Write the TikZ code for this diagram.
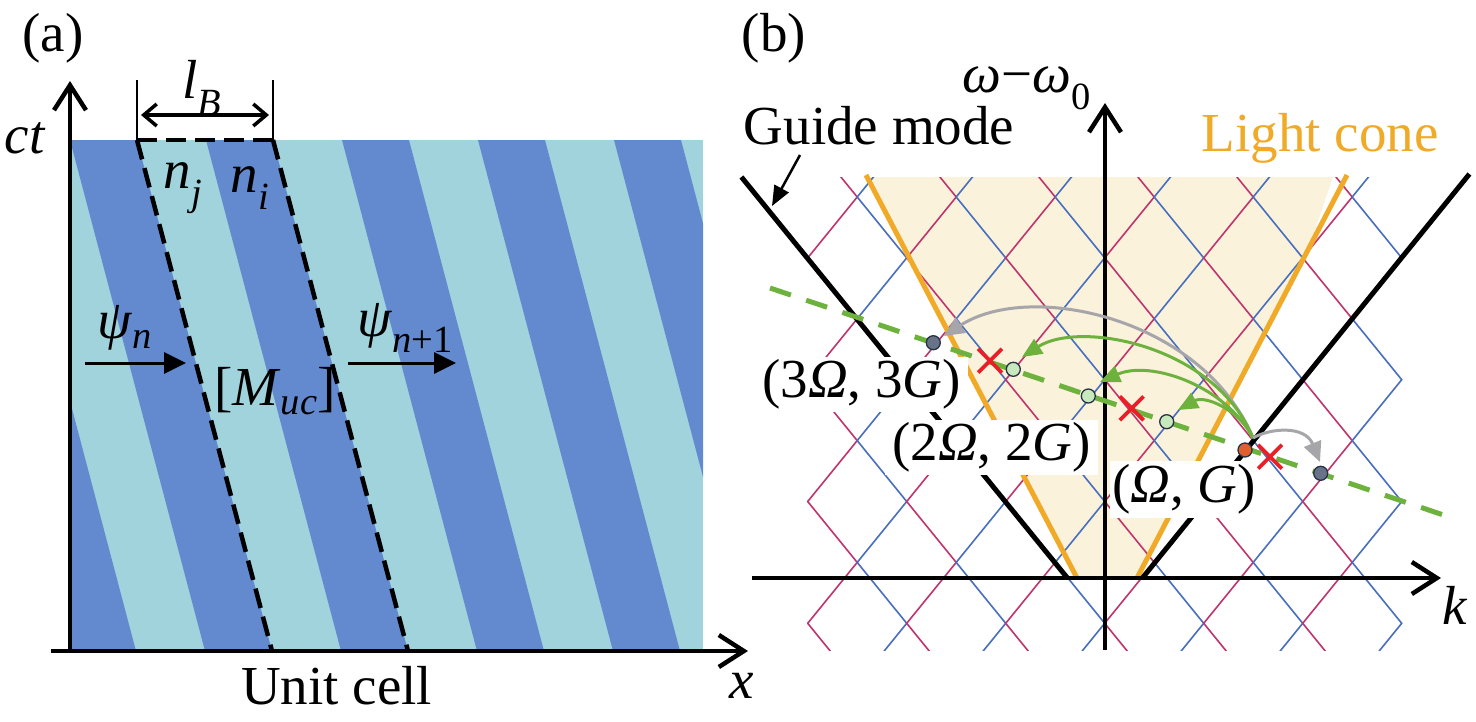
\documentclass[tikz,border=0pt]{standalone}
\usepackage{fontspec}
\setmainfont{Liberation Serif}
\usetikzlibrary{arrows.meta,shapes.misc}
\definecolor{darkstripe}{RGB}{99,137,207}
\definecolor{lightstripe}{RGB}{161,211,221}
\definecolor{lblue}{RGB}{72,110,190}
\definecolor{lmag}{RGB}{192,52,110}
\definecolor{cone}{RGB}{240,170,40}
\definecolor{conefill}{RGB}{251,242,220}
\definecolor{gdash}{RGB}{110,178,62}
\definecolor{grayarrow}{RGB}{165,165,170}
\definecolor{xred}{RGB}{235,30,40}
\definecolor{gdot}{RGB}{200,232,190}
\definecolor{bdot}{RGB}{105,115,135}
\definecolor{odot}{RGB}{225,95,45}
\definecolor{dotline}{RGB}{40,50,70}
\begin{document}
\begin{tikzpicture}[x=1pt,y=-1pt,
  lbl/.style={font=\fontsize{55}{60}\selectfont, inner sep=0pt},
  boxlbl/.style={font=\fontsize{55}{60}\selectfont, inner sep=0pt, fill=white},
  axisline/.style={line width=4.5pt, -{Straight Barb[length=25pt,width=32pt]}},
  dsh/.style={line width=4.5pt, dash pattern=on 20pt off 9pt},
  latline/.style={line width=1.6pt, line cap=round},
  greenarr/.style={gdash, line width=3pt, -{Triangle[length=20pt,width=17pt]}},
  grayarr/.style={grayarrow, line width=3pt, -{Triangle[length=20pt,width=18pt]}},
  dotbase/.style={circle, draw=dotline, line width=1.3pt, minimum size=14pt, inner sep=0pt},
  gdotst/.style={dotbase, fill=gdot},
  bdotst/.style={dotbase, fill=bdot},
  odotst/.style={dotbase, fill=odot},
  redx/.style={cross out, draw=xred, line width=3.8pt, minimum size=20pt, inner sep=0pt}
]
\useasboundingbox (0,0) rectangle (1476,721);
\fill[white] (0,0) rectangle (1476,721);

% ---------------- panel (a) ----------------
\begin{scope}
\clip (70,140) rectangle (703,651);
\fill[lightstripe] (70,140) rectangle (703,651);
\foreach \a in {-66,70,206,342,478,614} {
  \fill[darkstripe] (\a,140) -- (\a+67,140) -- (\a+202,651) -- (\a+135,651) -- cycle;
}
\end{scope}
\coordinate (ucTL) at (137,140);
\coordinate (ucTR) at (273,140);
\coordinate (ucBL) at (272,651);
\coordinate (ucBR) at (408,651);
\draw[dsh] (ucTL) -- (ucBL);
\draw[dsh] (ucTR) -- (ucBR);
\draw[dsh] (ucTL) -- (ucTR);
\coordinate (barL) at (137,80);
\coordinate (barR) at (273,80);
\draw[line width=2.5pt] (barL) -- (ucTL);
\draw[line width=2.5pt] (barR) -- (ucTR);
\coordinate (lbA) at (141,115);
\coordinate (lbB) at (269,115);
\draw[line width=3.5pt, {Straight Barb[length=13pt,width=22pt]}-{Straight Barb[length=13pt,width=22pt]}] (lbA) -- (lbB);

\coordinate (aO) at (70,651);
\coordinate (aXs) at (51,651);
\coordinate (aX) at (748,651);
\coordinate (aY) at (70,81);
\draw[axisline] (aXs) -- (aX);
\draw[axisline] (aO) -- (aY);

\coordinate (p1s) at (85,363);
\coordinate (p1e) at (186,363);
\coordinate (p2s) at (348,363);
\coordinate (p2e) at (456,363);
\draw[line width=3pt, -{Triangle[length=22pt,width=21pt]}] (p1s) -- (p1e);
\draw[line width=3pt, -{Triangle[length=22pt,width=21pt]}] (p2s) -- (p2e);

\node[lbl] (la) at (53,38) {(a)};
\node[lbl] (lct) at (25,138) {\textit{ct}};
\node[lbl] (llb) at (202,88) {\textit{l}\textsubscript{\textit{B}}};
\node[lbl] (lnj) at (183,188) {\textit{n}\textsubscript{\textit{j}}};
\node[lbl] (lni) at (250,188) {\textit{n}\textsubscript{\textit{i}}};
\node[lbl] (lpsin) at (125,328) {\textit{ψ}\textsubscript{\textit{n}}};
\node[lbl] (lpsin1) at (405,328) {\textit{ψ}\textsubscript{\textit{n}+1}};
\node[lbl] (lM) at (275,391) {[\textit{M}\textsubscript{\textit{uc}}]};
\node[lbl] (lunit) at (336.5,686) {Unit cell};
\node[lbl] (lx) at (742,686) {\textit{x}};

% ---------------- panel (b) ----------------
\fill[conefill] (870,177) -- (1333,177) -- (1309,247) -- (1137,578) -- (1077,578) -- cycle;

\begin{scope}
\clip (805,177) rectangle (1403.5,650);
\foreach \k in {-1,...,10} {
  \pgfmathtruncatemacro{\parity}{mod(\k+20,2)}
  \ifnum\parity=0 \def\lc{lblue}\else \def\lc{lmag}\fi
  \foreach \j in {-1,...,7} {
    \pgfmathtruncatemacro{\ev}{mod(\j-\k+20,2)}
    \pgfmathsetmacro{\xl}{857.2+49.5*\k}
    \pgfmathsetmacro{\xr}{857.2+49.5*(\k+1)}
    \pgfmathsetmacro{\ya}{197+60.9*\j}
    \pgfmathsetmacro{\yb}{197+60.9*(\j+1)}
    \ifnum\ev=0
      \draw[latline, \lc] (\xl,\ya) -- (\xr,\yb);
    \else
      \draw[latline, \lc] (\xr,\ya) -- (\xl,\yb);
    \fi
  }
}
\end{scope}

\coordinate (cL1) at (866,175);
\coordinate (cL2) at (1077,578);
\coordinate (cR1) at (1347,175);
\coordinate (cR2) at (1137,578);
\draw[cone, line width=5pt] (cL1) -- (cL2);
\draw[cone, line width=5pt] (cR1) -- (cR2);

\coordinate (gL1) at (741.4,177);
\coordinate (gL2) at (1067.4,578);
\coordinate (gR1) at (1469.4,174);
\coordinate (gR2) at (1142.4,578);
\draw[line width=5pt] (gL1) -- (gL2);
\draw[line width=5pt] (gR1) -- (gR2);

\coordinate (bXs) at (752,578);
\coordinate (bX) at (1441,578);
\coordinate (bYs) at (1105,650);
\coordinate (bY) at (1105,103);
\draw[axisline] (bXs) -- (bX);
\draw[axisline] (bYs) -- (bY);

\coordinate (gd1) at (770,288);
\coordinate (gd2) at (1442,514.5);
\draw[gdash, line width=5pt, dash pattern=on 22pt off 16.17pt] (gd1) -- (gd2);

% labels with white background
\node[boxlbl, minimum width=213pt, minimum height=55pt] (l3) at (861.5,384.5) {(3\textit{Ω}, 3\textit{G})};
\node[boxlbl, minimum width=213pt, minimum height=55pt] (l2) at (991.5,447.5) {(2\textit{Ω}, 2\textit{G})};
\node[boxlbl, minimum width=148pt, minimum height=57pt] (l1) at (1184,489.5) {(\textit{Ω}, \textit{G})};

% arrows
\coordinate (o) at (1253,438);
\coordinate (t1) at (1022,357);
\coordinate (t2) at (1100,382);
\coordinate (t3) at (944,336);
\coordinate (t4) at (1178,410);
\coordinate (t5) at (1320,462);
\draw[grayarr] (o) .. controls (1203,318) and (1030,280) .. (t3);
\draw[greenarr] (o) .. controls (1215,345) and (1080,320) .. (t1);
\draw[greenarr] (o) .. controls (1225,385) and (1150,360) .. (t2);
\draw[greenarr] (o) .. controls (1240,410) and (1205,395) .. (t4);
\draw[grayarr] (o) .. controls (1270,428) and (1305,425) .. (t5);

% dots and crosses
\node[bdotst] (d3) at (933.3,342.7) {};
\node[gdotst] (d2a) at (1013.3,369.3) {};
\node[gdotst] (d2b) at (1088.3,396) {};
\node[gdotst] (d1a) at (1166.7,421.7) {};
\node[odotst] (d0) at (1245,450) {};
\node[bdotst] (dm) at (1320.7,473.3) {};
\node[redx] (x3) at (990,360.7) {};
\node[redx] (x2) at (1131.7,408.3) {};
\node[redx] (x1) at (1270,456.7) {};

\node[lbl] (lb) at (774,38) {(b)};
\node[lbl] (lw) at (1027,88) {\textit{ω}−\textit{ω}\textsubscript{0}};
\node[lbl] (lguide) at (879,126) {Guide mode};
\node[lbl, text=cone] (lcone) at (1320,138) {Light cone};
\node[lbl] (lk) at (1455,605) {\textit{k}};
\coordinate (ga1) at (800,155);
\coordinate (ga2) at (772,206);
\draw[line width=2.5pt, -{Triangle[length=20pt,width=16pt]}] (ga1) -- (ga2);
\end{tikzpicture}
\end{document}
